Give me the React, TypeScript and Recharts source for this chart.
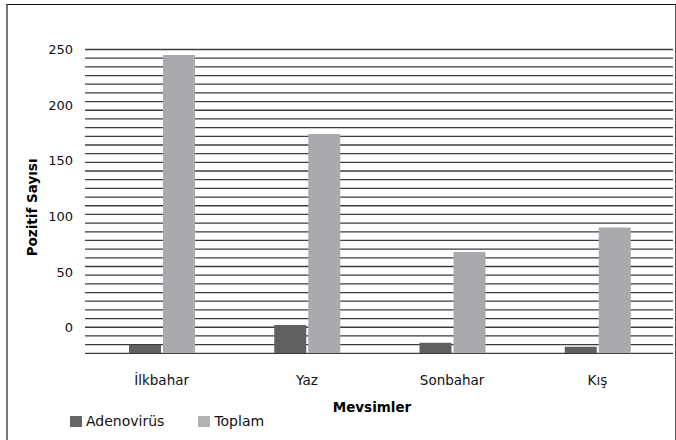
import React from 'react';
import { BarChart, Bar, XAxis, YAxis, CartesianGrid } from 'recharts';

const seasons = ['İlkbahar', 'Yaz', 'Sonbahar', 'Kış'];
const adenovirus = [-15.7, 2.2, -13.7, -17.3];
const toplam = [245, 174, 68, 90];
const seriesNames = ['Adenovirüs', 'Toplam'];
const seriesColors = ['#606060', '#aaaaae'];
const legendColors = ['#666666', '#b2b2b2'];
const yTicks = [0, 50, 100, 150, 200, 250];
const AXIS_MIN = -23.2;
const AXIS_MAX = 250;
const GRID_COUNT = 35;
const gridTicks = Array.from({ length: GRID_COUNT + 1 }, (_, i) => AXIS_MIN + ((AXIS_MAX - AXIS_MIN) * i) / GRID_COUNT);

const data = seasons.map((s, i) => ({
  season: s,
  adeno: [AXIS_MIN, adenovirus[i]],
  toplam: [AXIS_MIN, toplam[i]],
}));

const FONT = '"DejaVu Sans", sans-serif';

export default function App() {
  return (
    <div style={{ position: 'absolute', left: 0, top: 0, width: 676, height: 440, overflow: 'hidden', background: '#fff', fontFamily: FONT }}>
      <div style={{ position: 'absolute', left: 6, top: 4, width: 667, height: 500, borderTop: '1.5px solid #111', borderLeft: '2px solid #777', borderRight: '1.5px solid #555' }} />
      <div style={{ position: 'absolute', left: 0, top: 0 }}>
        <BarChart width={676} height={440} data={data} margin={{ top: 49.5, right: 3, bottom: 0, left: 0 }} barSize={32} barGap={2}>
          <CartesianGrid yAxisId="grid" vertical={false} stroke="#3c3c3c" strokeWidth={1.3} />
          <XAxis
            dataKey="season"
            height={86.7}
            axisLine={false}
            tickLine={false}
            tickSize={0}
            tickMargin={22}
            padding={{ left: 4, right: 3 }}
            tick={{ fill: '#111', fontSize: 13.5, fontFamily: FONT }}
            label={{
              content: (props: any) => {
                const vb = props.viewBox;
                return (
                  <text x={vb.x + vb.width / 2 - 7} y={vb.y + 58.5} textAnchor="middle" fontSize={13.5} fontWeight="bold" fontFamily={FONT} fill="#000">
                    Mevsimler
                  </text>
                );
              },
            }}
          />
          <YAxis
            yAxisId="left"
            width={85}
            domain={[AXIS_MIN, AXIS_MAX]}
            allowDataOverflow
            ticks={yTicks}
            axisLine={false}
            tickLine={false}
            tickSize={0}
            tickMargin={12}
            tick={{ fill: '#111', fontSize: 13, fontFamily: FONT }}
            label={{
              content: (props: any) => {
                const vb = props.viewBox;
                const cx = vb.x + 32;
                const cy = vb.y + vb.height / 2 + 6;
                return (
                  <text x={cx} y={cy} transform={`rotate(-90, ${cx}, ${cy})`} textAnchor="middle" dominantBaseline="central" fontSize={13.5} fontWeight="bold" fontFamily={FONT} fill="#000">
                    Pozitif Sayısı
                  </text>
                );
              },
            }}
          />
          <YAxis yAxisId="grid" hide width={0} interval={0} domain={[AXIS_MIN, AXIS_MAX]} allowDataOverflow ticks={gridTicks} />
          <Bar yAxisId="left" dataKey="adeno" name={seriesNames[0]} fill={seriesColors[0]} isAnimationActive={false} />
          <Bar yAxisId="left" dataKey="toplam" name={seriesNames[1]} fill={seriesColors[1]} isAnimationActive={false} />
        </BarChart>
      </div>
      <div style={{ position: 'absolute', left: 70, top: 413, display: 'flex', alignItems: 'center', fontSize: 14, color: '#111' }}>
        {seriesNames.map((n, i) => (
          <div key={n} style={{ display: 'flex', alignItems: 'center', marginRight: i === 0 ? 34 : 0 }}>
            <span style={{ display: 'inline-block', width: 12, height: 11, background: legendColors[i], marginRight: 4 }} />
            <span>{n}</span>
          </div>
        ))}
      </div>
    </div>
  );
}
